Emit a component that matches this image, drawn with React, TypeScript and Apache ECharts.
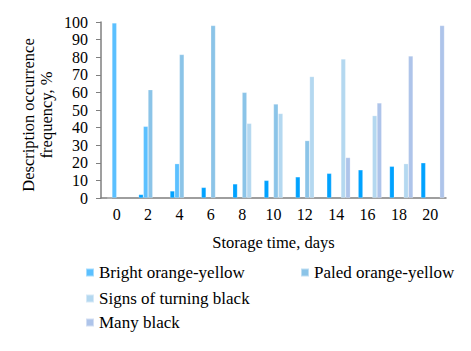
import React, { useEffect, useRef } from "react";
import * as echarts from "echarts";

const categories = ["0", "2", "4", "6", "8", "10", "12", "14", "16", "18", "20"];
const hiddenSeries: (number | null)[] = [null, null, null, null, null, null, null, null, null, null, null];
const storageDay = [0, 2, 4, 6, 8, 10, 12, 14, 16, 18, 20];
const brightOrangeYellow = [99.5, 40.7, 19.5, null, null, null, null, null, null, null, null];
const paledOrangeYellow = [null, 61.5, 81.5, 98, 60, 53.4, 32.6, null, null, null, null];
const signsOfTurningBlack = [null, null, null, null, 42.4, 48, 69, 79, 46.8, 19.5, null];
const manyBlack = [null, null, null, null, null, null, null, 23, 54, 80.7, 98];
const yTicks = [0, 100, 10];

const FONT = "Times New Roman, Liberation Serif, serif";

export default function App() {
  const ref = useRef<HTMLDivElement>(null);
  useEffect(() => {
    if (!ref.current) return;
    const chart = echarts.init(ref.current, undefined, { renderer: "svg" });
    const mk = (name: string, data: (number | null)[], color: string) => ({
      name,
      type: "bar",
      data,
      barGap: "0%",
      barCategoryGap: "10%",
      itemStyle: { color, borderColor: "rgba(255,255,255,0.45)", borderWidth: 0.5 },
    });
    const legendBase = {
      padding: 0,
      itemWidth: 8,
      itemHeight: 8,
      itemGap: 4,
      icon: "rect",
      textStyle: { fontFamily: FONT, fontSize: 17, color: "#000" },
    };
    chart.setOption({
      animation: false,
      textStyle: { fontFamily: FONT },
      grid: { left: 101, right: 25, top: 22, bottom: 153, containLabel: false },
      legend: [
        { ...legendBase, data: ["Bright orange-yellow"], left: 85, top: 264 },
        { ...legendBase, data: ["Paled orange-yellow"], left: 300, top: 264 },
        { ...legendBase, data: ["Signs of turning black"], left: 85, top: 290 },
        { ...legendBase, data: ["Many black"], left: 85, top: 314 },
      ],
      xAxis: {
        type: "category",
        data: categories,
        name: "Storage time, days",
        nameLocation: "middle",
        nameGap: 36,
        nameTextStyle: { fontFamily: FONT, fontSize: 16.5, color: "#000" },
        axisLine: { lineStyle: { color: "#7f7f7f", width: 1.5 } },
        axisTick: { length: 4, lineStyle: { color: "#7f7f7f" } },
        axisLabel: { fontFamily: FONT, fontSize: 16, color: "#000", margin: 8 },
      },
      yAxis: {
        type: "value",
        min: yTicks[0],
        max: yTicks[1],
        interval: yTicks[2],
        axisLine: { show: true, lineStyle: { color: "#7f7f7f", width: 1.5 } },
        axisTick: { show: true, length: 5, lineStyle: { color: "#7f7f7f" } },
        splitLine: { show: false },
        axisLabel: { fontFamily: FONT, fontSize: 16, color: "#000", margin: 13 },
      },
      graphic: [
        {
          type: "text",
          x: 37,
          y: 115,
          rotation: Math.PI / 2,
          style: {
            text: "Description occurrence\nfrequency, %",
            fontFamily: FONT,
            fontSize: 16.5,
            lineHeight: 18,
            fill: "#000",
            align: "center",
            verticalAlign: "middle",
          },
        },
      ],
      series: [
        mk("hidden", hiddenSeries, "transparent"),
        mk("Storage day", storageDay, "#00a2ff"),
        mk("Bright orange-yellow", brightOrangeYellow, "#5bc0ff"),
        mk("Paled orange-yellow", paledOrangeYellow, "#8bc4e8"),
        mk("Signs of turning black", signsOfTurningBlack, "#b4d8f0"),
        mk("Many black", manyBlack, "#aec4ea"),
      ],
    });
    return () => chart.dispose();
  }, []);
  return (
    <div
      ref={ref}
      style={{ position: "fixed", left: 0, top: 0, width: 471, height: 351, background: "#fff" }}
    />
  );
}
